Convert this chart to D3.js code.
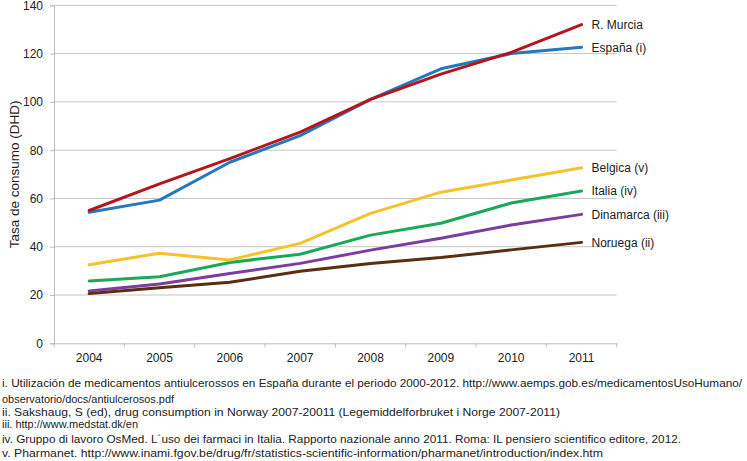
<!DOCTYPE html>
<html><head><meta charset="utf-8">
<script src="https://cdn.jsdelivr.net/npm/d3@7"></script>
<style>
body{margin:0;background:#fff;}
svg{display:block;font-family:"Liberation Sans",Arial,Helvetica,sans-serif;}
</style></head>
<body>
<svg id="c" width="747" height="461"></svg>
<script>
const years = ["2004","2005","2006","2007","2008","2009","2010","2011"];
const seriesNames = ["R. Murcia","España (i)","Belgica (v)","Italia (iv)","Dinamarca (iii)","Noruega (ii)"];
const murcia    = [55, 66, 76.5, 87.5, 101, 111.5, 120.5, 132];
const espana    = [54.3, 59.3, 75, 86, 101, 113.7, 120, 122.6];
const belgica   = [32.5, 37.3, 34.5, 41.4, 53.8, 62.6, 67.6, 72.7];
const italia    = [25.8, 27.6, 33.5, 36.9, 44.8, 49.7, 58.1, 63.1];
const dinamarca = [21.7, 24.6, 28.9, 33.1, 38.6, 43.5, 49, 53.4];
const noruega   = [20.6, 23, 25.3, 29.8, 33.1, 35.5, 38.7, 41.8];
const colors = ["#b3161d","#2478bd","#f5c22b","#1aa95b","#7a3ea0","#5a2e0e"];
const yTicks = [0,20,40,60,80,100,120,140];
const yTitle = "Tasa de consumo (DHD)";
const notes = [
 "i. Utilización de medicamentos antiulcerossos en España durante el periodo 2000-2012. http://www.aemps.gob.es/medicamentosUsoHumano/",
 "observatorio/docs/antiulcerosos.pdf",
 "ii. Sakshaug, S (ed), drug consumption in Norway 2007-20011 (Legemiddelforbruket i Norge 2007-2011)",
 "iii. http://www.medstat.dk/en",
 "iv. Gruppo di lavoro OsMed. L´uso dei farmaci in Italia. Rapporto nazionale anno 2011. Roma: IL pensiero scientifico editore, 2012.",
 "v. Pharmanet. http://www.inami.fgov.be/drug/fr/statistics-scientific-information/pharmanet/introduction/index.htm"
];
const values = [murcia, espana, belgica, italia, dinamarca, noruega];

const svg = d3.select("#c");
const L = 54, R = 616.7, T = 5.3, B = 343.3;
const x = d3.scaleBand().domain(years).range([L, R]);
const y = d3.scaleLinear().domain([0,140]).range([B, T]);

// gridlines
svg.append("g").selectAll("line").data(yTicks.filter(d=>d>0)).join("line")
  .attr("x1", L).attr("x2", R).attr("y1", d=>y(d)).attr("y2", d=>y(d))
  .attr("stroke", "#c4c4c4").attr("stroke-width", 1);

// y axis
const ya = svg.append("g").attr("transform", `translate(${L},0)`)
  .call(d3.axisLeft(y).tickValues(yTicks).tickSize(4).tickPadding(7));
ya.select(".domain").attr("stroke","#bdbdbd");
ya.selectAll(".tick line").attr("stroke","#bdbdbd");
ya.selectAll("text").attr("font-size", 12).attr("fill","#222").attr("font-family","Liberation Sans, Arial, sans-serif");

// x axis
const xa = svg.append("g").attr("transform", `translate(0,${B})`)
  .call(d3.axisBottom(x).tickSize(0).tickPadding(10));
xa.select(".domain").attr("stroke","#bdbdbd");
xa.selectAll("text").attr("font-size", 12).attr("fill","#222").attr("font-family","Liberation Sans, Arial, sans-serif");
svg.append("g").selectAll("line").data(years.map(d=>x(d)).concat([R])).join("line")
  .attr("x1", d=>d).attr("x2", d=>d).attr("y1", B).attr("y2", B+4)
  .attr("stroke","#bdbdbd");

// y title
svg.append("text").attr("transform", `translate(19,${(T+B)/2}) rotate(-90)`)
  .attr("text-anchor","middle").attr("font-size", 13.5).attr("fill","#222").text(yTitle);

// lines
const line = d3.line().x((d,i)=>x(years[i]) + x.bandwidth()/2).y(d=>y(d));
const order = [5,4,3,2,1,0];
order.forEach(k => {
  svg.append("path").datum(values[k]).attr("d", line)
    .attr("fill","none").attr("stroke", colors[k]).attr("stroke-width", 3)
    .attr("stroke-linejoin","round").attr("stroke-linecap","round");
});

// labels
const xEnd = x(years[years.length-1]) + x.bandwidth()/2;
seriesNames.forEach((n,k) => {
  svg.append("text").attr("x", xEnd + 10).attr("y", y(values[k][values[k].length-1]))
    .attr("dy","0.35em").attr("font-size", 12).attr("fill","#222").text(n);
});

// notes
const noteY = [383, 398.5, 412, 424, 439, 453];
const noteW = [740, 172, 558, 136, 679, 601];
notes.forEach((t,i) => {
  svg.append("text").attr("x", 2).attr("y", noteY[i]).attr("dy","0.35em")
    .attr("font-size", 11.5).attr("fill","#222")
    .attr("textLength", noteW[i]).attr("lengthAdjust","spacingAndGlyphs").text(t);
});
</script>
</body></html>
